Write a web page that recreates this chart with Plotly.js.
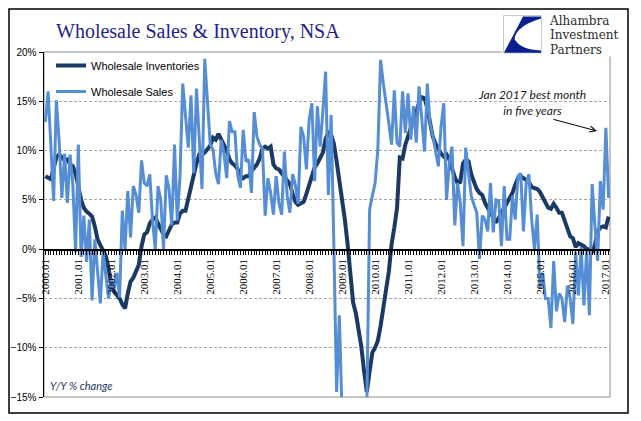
<!DOCTYPE html>
<html><head><meta charset="utf-8">
<script src="https://cdn.plot.ly/plotly-3.0.1.min.js"></script>
<style>html,body{margin:0;padding:0;background:#fff;}#chart{width:641px;height:421px;}</style>
</head><body><div id="chart"></div>
<script>
const tickLabels = ['2000.01','2001.01','2002.01','2003.01','2004.01','2005.01','2006.01','2007.01','2008.01',
  '2009.01','2010.01','2011.01','2012.01','2013.01','2014.01','2015.01','2016.01','2017.01'];

// Monthly Y/Y % change, Jan 2000 .. Feb 2017
const inventories = [
  7.4, 7.3, 7.1, 8.2, 9.3, 9.6, 9.3, 9.0, 9.1, 8.6, 8.4, 7.6,
  6.4, 5.0, 4.2, 3.8, 3.6, 3.3, 2.3, 1.0, 0.4, -0.1, -0.7, -2.0,
  -3.5, -4.3, -4.6, -5.0, -5.6, -6.0, -4.5, -3.3, -2.9, -2.3, -1.6, 0.3,
  1.5, 1.7, 2.6, 3.0, 3.2, 2.6, 2.0, 1.5, 1.3, 1.8, 2.5, 2.7,
  2.7, 3.6, 3.9, 3.9, 5.2, 6.5, 7.6, 8.7, 9.6, 9.6, 9.8, 10.2,
  10.5, 11.3, 11.1, 11.7, 11.2, 10.6, 10.0, 9.1, 8.7, 8.5, 8.1, 7.4,
  7.2, 7.4, 7.4, 7.9, 8.2, 8.6, 9.2, 10.2, 10.4, 10.2, 10.4, 8.6,
  8.2, 8.1, 7.7, 7.3, 6.9, 6.6, 5.6, 4.8, 4.5, 4.7, 4.8, 5.6,
  6.5, 7.4, 8.3, 8.7, 9.2, 9.8, 11.2, 11.8, 11.6, 10.7, 8.9, 7.0,
  4.8, 3.0, 0.5, -2.4, -5.4, -6.5, -8.0, -9.9, -12.4, -14.5, -12.4, -10.5,
  -10.0, -9.3, -7.8, -5.7, -4.1, -2.3, 0.5, 2.2, 4.2, 9.3, 9.2, 10.6,
  11.5, 12.2, 13.0, 13.9, 14.8, 15.4, 15.3, 14.3, 12.9, 11.4, 10.7, 10.1,
  9.7, 9.4, 9.6, 9.1, 8.0, 7.3, 6.7, 6.8, 8.7, 9.1, 8.9, 7.6,
  6.8, 6.1, 5.7, 5.5, 4.7, 4.2, 3.6, 3.0, 2.7, 3.2, 3.7, 4.0,
  4.7, 5.0, 5.7, 6.5, 7.2, 7.4, 7.2, 7.1, 6.8, 6.3, 6.2, 6.1,
  5.8, 5.2, 4.6, 4.2, 4.1, 4.6, 4.2, 3.7, 3.7, 2.8, 2.2, 1.3,
  1.1, 0.2, 0.6, 0.5, 0.3, 0.0, 0.0, -0.2, 0.4, 1.8, 2.2, 2.3,
  2.2, 3.3
];
const sales = [
  12.9, 16.0, 10.5, 4.9, 15.1, 11.0, 5.2, 9.7, 4.7, 9.6, 6.5, -0.3,
  10.6, -0.8, 3.4, -1.3, 3.0, -5.2, 1.0, -2.0, -5.5, -0.3, -2.4, -5.0,
  -3.0, -4.0, -2.4, -4.9, 3.9, 0.0, 5.9, 1.2, 6.4, 5.5, 3.7, 9.0,
  6.7, 6.4, 7.6, 2.9, 0.0, 6.4, 5.0, 0.0, 7.5, 6.1, 2.4, 10.6,
  2.9, 7.4, 16.8, 13.1, 10.3, 15.6, 7.7, 16.3, 10.4, 6.1, 19.3, 14.5,
  10.6, 10.1, 7.7, 6.6, 11.1, 9.7, 7.2, 13.0, 11.9, 11.9, 7.5, 6.2,
  12.1, 8.9, 9.1, 5.7, 13.9, 11.4, 10.6, 10.2, 3.4, 7.2, 5.7, 3.5,
  7.4, 4.7, 3.5, 9.9, 5.4, 3.7, 7.6, 6.5, 4.6, 12.4, 11.4, 8.1,
  13.1, 14.8, 6.9, 14.5, 10.4, 14.0, 18.0, 5.5, 13.6, 0.3, -14.5, -6.7,
  -17, -20, -22, -24, -25, -25, -24, -22, -20, -16, 4.0, 5.4,
  6.7, 10.1, 19.2, 16.8, 14.5, 12.8, 10.6, 16.1, 10.8, 10.4, 16.0, 11.8,
  15.8, 11.1, 14.5, 10.8, 16.5, 13.5, 9.9, 16.8, 12.8, 11.5, 10.1, 8.4,
  12.4, 14.8, 5.0, 8.7, 10.4, 2.4, 6.7, 4.7, 0.3, 10.3, 7.7, 5.4,
  4.5, 3.7, -1.0, 3.4, 3.0, 1.8, 6.7, 1.7, 5.0, 4.9, 0.3, 6.4,
  1.0, 1.0, 5.4, 3.0, 7.4, 7.7, 1.8, 6.7, 7.6, 3.0, 0.0, 3.5,
  -4.0, -2.4, -5.0, -5.0, -8.0, -1.2, -6.3, -4.5, -5.0, -7.4, -3.7, -5.0,
  -7.6, -0.3, -4.7, 0.2, -5.7, 0.0, -6.7, 6.6, 2.4, -1.2, 6.9, 4.0,
  12.3, 5.2
];
const seriesNames = ['Wholesale Inventories', 'Wholesale Sales'];

const monthIdx = sales.map((_, i) => i);
const tickVals = tickLabels.map((_, k) => 12 * k);

// pixel -> paper helpers for decoration
const PL = 44, PR = 610, PT = 52, PB = 397;
const px = x => (x - PL) / (PR - PL);
const py = y => (PB - y) / (PB - PT);

const traces = [
  {x: monthIdx, y: inventories, name: seriesNames[0], type: 'scatter', mode: 'lines',
   line: {color: '#1b3a63', width: 4}, legendgroup: 'a'},
  {x: monthIdx, y: sales, name: seriesNames[1], type: 'scatter', mode: 'lines',
   line: {color: '#558ed5', width: 3}, legendgroup: 'b'}
];

const P = (x, y) => px(x) + ',' + py(y);
const logoPath = 'M' + P(523, 16.5) + ' L' + P(541, 16.5) + ' L' + P(541, 18.5) +
  ' Q' + P(516, 26) + ' ' + P(514.5, 39) +
  ' Q' + P(520, 49.5) + ' ' + P(541, 50.5) +
  ' L' + P(541, 52.8) + ' L' + P(504, 52.8) + ' Z';

const layout = {
  width: 641, height: 421,
  margin: {l: PL, r: 641 - PR, t: PT, b: 421 - PB},
  paper_bgcolor: '#fff', plot_bgcolor: '#fff',
  showlegend: true,
  title: {text: 'Wholesale Sales &amp; Inventory, NSA',
    font: {family: 'Liberation Serif', size: 20, color: '#1f1f8a'},
    xref: 'container', yref: 'container', x: 56 / 641, xanchor: 'left', y: 1 - 31 / 421, yanchor: 'middle'},
  legend: {x: px(51), y: py(51), xanchor: 'left', yanchor: 'top', bgcolor: 'rgba(0,0,0,0)',
    font: {family: 'Liberation Sans', size: 11, color: '#000'}, traceorder: 'grouped', tracegroupgap: 7,
    itemwidth: 30},
  xaxis: {
    range: [-0.5, 205.5], anchor: 'free', position: 15 / 35,
    showline: true, linecolor: '#000', linewidth: 1.5,
    ticks: 'outside', ticklen: 4, tickcolor: '#000', tickwidth: 1,
    tickmode: 'array', tickvals: tickVals, ticktext: tickLabels, tickangle: -90,
    tickfont: {family: 'Liberation Serif', size: 11, color: '#000'},
    showgrid: false, zeroline: false,
    minor: {tickmode: 'linear', tick0: 0, dtick: 1, ticks: 'outside', ticklen: 4, tickcolor: '#000', tickwidth: 1, showgrid: false}
  },
  yaxis: {
    range: [-15, 20], dtick: 5, tick0: 0, ticksuffix: '%',
    showline: true, linecolor: '#000', linewidth: 1.5,
    ticks: 'outside', ticklen: 4, tickcolor: '#000',
    tickfont: {family: 'Liberation Sans', size: 10, color: '#000'},
    showgrid: true, gridcolor: '#a6a6a6', gridwidth: 1, griddash: '3px,2px', zeroline: false
  },
  shapes: [
    {type: 'rect', xref: 'paper', yref: 'paper', x0: 0, x1: 1, y0: 0, y1: 1, line: {color: '#8c8c8c', width: 1}, layer: 'below'},
    {type: 'rect', xref: 'paper', yref: 'paper', x0: px(9), x1: px(628), y0: py(413), y1: py(9), line: {color: '#000', width: 1.5}},
    {type: 'rect', xref: 'paper', yref: 'paper', x0: px(502), x1: px(616), y0: py(56.5), y1: py(11), line: {width: 0}, fillcolor: '#fff'},
    {type: 'rect', xref: 'paper', yref: 'paper', x0: px(503.5), x1: px(541.5), y0: py(53), y1: py(15.5), line: {color: '#c8c8c8', width: 1}, fillcolor: '#fff'},
    {type: 'path', xref: 'paper', yref: 'paper', path: logoPath, fillcolor: '#0a1f8f', line: {width: 0}}
  ],
  annotations: [
    {xref: 'paper', yref: 'paper', x: px(547), y: py(35.5), xanchor: 'left', yanchor: 'middle', showarrow: false, align: 'left',
     text: '<span style="font-size:12px">Alhambra</span><br><span style="font-size:12px">Investment</span><br><span style="font-size:12px">Partners</span>',
     font: {family: 'DejaVu Serif', size: 11, color: '#2b2b2b'}},
    {xref: 'paper', yref: 'paper', x: px(48), y: py(385), xanchor: 'left', yanchor: 'middle', showarrow: false,
     text: '<i>Y/Y % change</i>', font: {family: 'Lato', size: 11, color: '#1f3864'}},
    {xref: 'paper', yref: 'paper', x: px(532), y: py(102), xanchor: 'center', yanchor: 'middle', showarrow: false,
     text: '<i>Jan 2017 best month<br>in five years</i>', font: {family: 'Lato', size: 12, color: '#1a1a1a'}},
    {xref: 'paper', yref: 'paper', x: px(597), y: py(131), ax: -45, ay: -12, showarrow: true, text: '',
     arrowhead: 5, arrowsize: 1.2, arrowwidth: 1, arrowcolor: '#000'}
  ]
};

Plotly.newPlot('chart', traces, layout, {staticPlot: true, displayModeBar: false});
</script>
</body></html>
